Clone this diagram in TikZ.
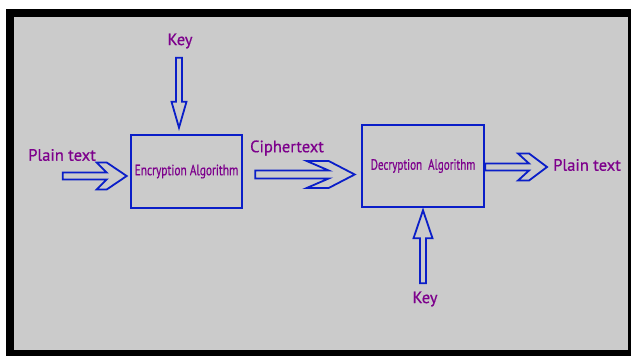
\documentclass[tikz,border=0pt]{standalone}
\usepackage{fontspec}
\setmainfont{PT Sans}
\newfontfamily\medfont[FakeBold=0.6]{PT Sans}
\usetikzlibrary{calc}
\definecolor{bg}{RGB}{203,203,203}
\definecolor{lineblue}{RGB}{10,30,200}
\definecolor{txtpurple}{RGB}{125,0,140}
\tikzset{
  procbox/.style={draw=lineblue, line width=2.6pt, fill=bg, inner sep=0pt, text=txtpurple, font=\medfont\fontsize{15}{17}\selectfont},
  lbl/.style={text=txtpurple, inner sep=0pt, font=\medfont\fontsize{16.5}{18}\selectfont},
  blk/.style={draw=lineblue, line width=1.8pt, line join=miter, fill=bg}
}
\newcommand\blkarr[6]{%
  \coordinate (ba) at ($(#2)!#5!(#1)$);
  \coordinate (fa) at ($(#2)!#6!(#1)$);
  \draw[blk] ($(#1)!#3!90:(#2)$) -- ($(fa)!#3!90:(#2)$) -- ($(ba)!#4!90:(#2)$)
    -- ($(fa)!#4!90:(#2)$) -- (#2) -- ($(fa)!#4!-90:(#2)$) -- ($(ba)!#4!-90:(#2)$)
    -- ($(fa)!#3!-90:(#2)$) -- ($(#1)!#3!-90:(#2)$) -- cycle;
}
\begin{document}
\begin{tikzpicture}[x=1pt,y=1pt]
\useasboundingbox (0,0) rectangle (631,356);
\fill[white] (0,0) rectangle (631,356);
\fill[black] (6,0) rectangle (631,347);
\fill[bg] (14,6) rectangle (628,339);
% boxes
\node[procbox, minimum width=111pt, minimum height=73pt] (enc) at (186.5,184.5)
  {\scalebox{0.76}[1]{Encryption Algorithm}};
\node[procbox, minimum width=122pt, minimum height=82pt] (dec) at (423,190)
  {\scalebox{0.74}[1]{Decryption\ \ Algorithm}};
% labels
\node[lbl] (key1) at (180,315) {Key};
\node[lbl] (pt1) at (62,201) {Plain text};
\node[lbl] (ct) at (287,208) {Ciphertext};
\node[lbl] (pt2) at (587,191) {Plain text};
\node[lbl] (key2) at (425,57) {Key};
% arrow ends
\coordinate (a1e) at ([xshift=-3pt,yshift=-4.5pt]enc.west);
\coordinate (a1s) at ($(a1e)+(-64,0)$);
\coordinate (k1e) at ([xshift=-7.5pt,yshift=6pt]enc.north);
\coordinate (k1s) at ($(k1e)+(0,70)$);
\coordinate (c1s) at ([xshift=12pt,yshift=-3pt]enc.east);
\coordinate (c1e) at ([xshift=-6pt,yshift=-8.5pt]dec.west);
\coordinate (o1s) at ([yshift=-1pt]dec.east);
\coordinate (o1e) at ([xshift=-6pt,yshift=-2pt]pt2.west);
\coordinate (k2e) at ([yshift=-2pt]dec.south);
\coordinate (k2s) at ($(k2e)+(0,-73)$);
% arrows
\blkarr{a1s}{a1e}{3.5pt}{13.5pt}{30pt}{20pt}
\blkarr{k1s}{k1e}{3pt}{7.5pt}{26pt}{26pt}
\blkarr{c1s}{c1e}{4pt}{13.5pt}{48pt}{26pt}
\blkarr{o1s}{o1e}{3.5pt}{13.5pt}{29pt}{18pt}
\blkarr{k2s}{k2e}{3pt}{9.5pt}{28pt}{28pt}
\end{tikzpicture}
\end{document}
